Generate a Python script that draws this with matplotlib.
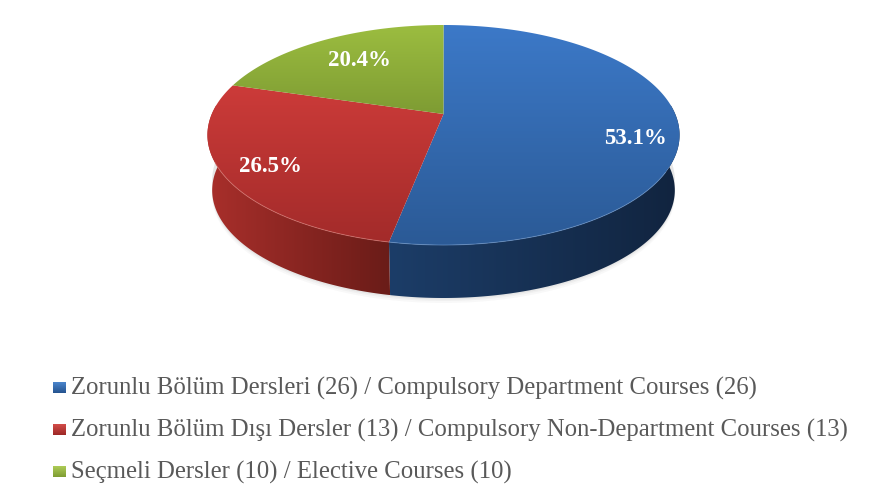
import numpy as np
import matplotlib
matplotlib.use("Agg")
import matplotlib.pyplot as plt
from matplotlib.patches import Polygon
from matplotlib.colors import LinearSegmentedColormap as LSC

legend_labels = ["Zorunlu Bölüm Dersleri (26) / Compulsory Department Courses (26)",
                 "Zorunlu Bölüm Dışı Dersler (13) / Compulsory Non-Department Courses (13)",
                 "Seçmeli Dersler (10) / Elective Courses (10)"]
counts = [26, 13, 10]

top_cols = [("#3c79c8", "#2b5a96"), ("#cc3b39", "#a32b2a"), ("#9cbd40", "#7e9c33")]
side_cols = [("#1c3d68", "#11243f"), ("#a92f2b", "#6a1c18"), ("#6d8a2c", "#556b22")]

W, H = 872, 488
fig = plt.figure(figsize=(W / 100, H / 100), dpi=100)
ax = fig.add_axes([0, 0, 1, 1])

CX, CY, A, B, K = 443.5, 114.0, 231.7, 106.0, 0.191
DEPTH_SHIFT, DEPTH_SCALE = 55.6, 0.98


def rim(theta_deg, lower=False):
    t = np.radians(theta_deg)
    X, Y = np.sin(t), np.cos(t)
    w = 1 + K * Y
    x, y = A * X / w, -B * Y / w
    if lower:
        return CX + DEPTH_SCALE * x, CY + DEPTH_SHIFT + DEPTH_SCALE * y
    return CX + x, CY + y


def fill_gradient(xs, ys, c0, c1, horizontal=False, z=2):
    cmap = LSC.from_list("g", [c0, c1])
    g = np.linspace(0, 1, 128)
    g = g[None, :] if horizontal else g[:, None]
    poly = Polygon(np.column_stack([xs, ys]), closed=True, transform=ax.transData,
                   fc="none", ec="none")
    ax.add_patch(poly)
    im = ax.imshow(g, cmap=cmap, extent=[xs.min(), xs.max(), ys.max(), ys.min()],
                   aspect="auto", zorder=z, interpolation="bilinear")
    im.set_clip_path(poly)


total = sum(counts)
edges = np.concatenate([[0], np.cumsum(counts) / total * 360])

# soft shadow under the body
for grow, alpha in [(5, 0.03), (3, 0.04), (1.5, 0.05)]:
    th = np.linspace(80, 280, 200)
    x, y = rim(th, lower=True)
    ax.fill(np.r_[x, x[::-1]], np.r_[y + grow, y[::-1] - 10], color="#333333", alpha=alpha, lw=0, zorder=1)

# side wall
for i in range(3):
    lo, hi = max(edges[i], 85), min(edges[i + 1], 275)
    if hi <= lo:
        continue
    th = np.linspace(lo, hi, 200)
    xu, yu = rim(th)
    xl, yl = rim(th, lower=True)
    xs, ys = np.r_[xu, xl[::-1]], np.r_[yu, yl[::-1]]
    c0, c1 = side_cols[i]
    if i == 0:
        fill_gradient(xs, ys, c0, c1, horizontal=True, z=2)
    else:
        fill_gradient(xs, ys, c0, c1, horizontal=True, z=2)

# top face
for i in range(3):
    th = np.linspace(edges[i], edges[i + 1], 300)
    x, y = rim(th)
    xs, ys = np.r_[CX, x], np.r_[CY, y]
    fill_gradient(xs, ys, *top_cols[i], z=3)

# pale rim highlight on the front of the top face
for i, c in [(0, "#6d97cc"), (1, "#d97a74")]:
    th = np.linspace(max(edges[i], 120), min(edges[i + 1], 245), 200)
    x, y = rim(th)
    ax.plot(x, y, color=c, lw=0.7, alpha=0.6, zorder=4)

# percentage labels
label_pos = [(635, 138), (270, 167), (359, 61)]
for v, (x, y) in zip(counts, label_pos):
    ax.text(x, y, f"{v / total * 100:.1f}%", color="white", fontsize=16.5, fontweight="bold",
            family="Liberation Serif", ha="center", va="center", zorder=6)

# legend
rows = [387, 429, 471]
squares = [("#4f8ad2", "#25538f"), ("#d8504c", "#9c2826"), ("#b2d05a", "#7e9c33")]
for lab, r, (c0, c1) in zip(legend_labels, rows, squares):
    sx = np.array([53, 66, 66, 53.0])
    sy = np.array([r - 5.5, r - 5.5, r + 6.5, r + 6.5])
    fill_gradient(sx, sy, c0, c1)
    ax.text(71, r + 1.5, lab, color="#595959", fontsize=17.8, family="Liberation Serif",
            ha="left", va="center", zorder=6)

ax.set_xlim(0, W)
ax.set_ylim(H, 0)
ax.axis("off")
fig.savefig("out.png", dpi=100, facecolor="white")
